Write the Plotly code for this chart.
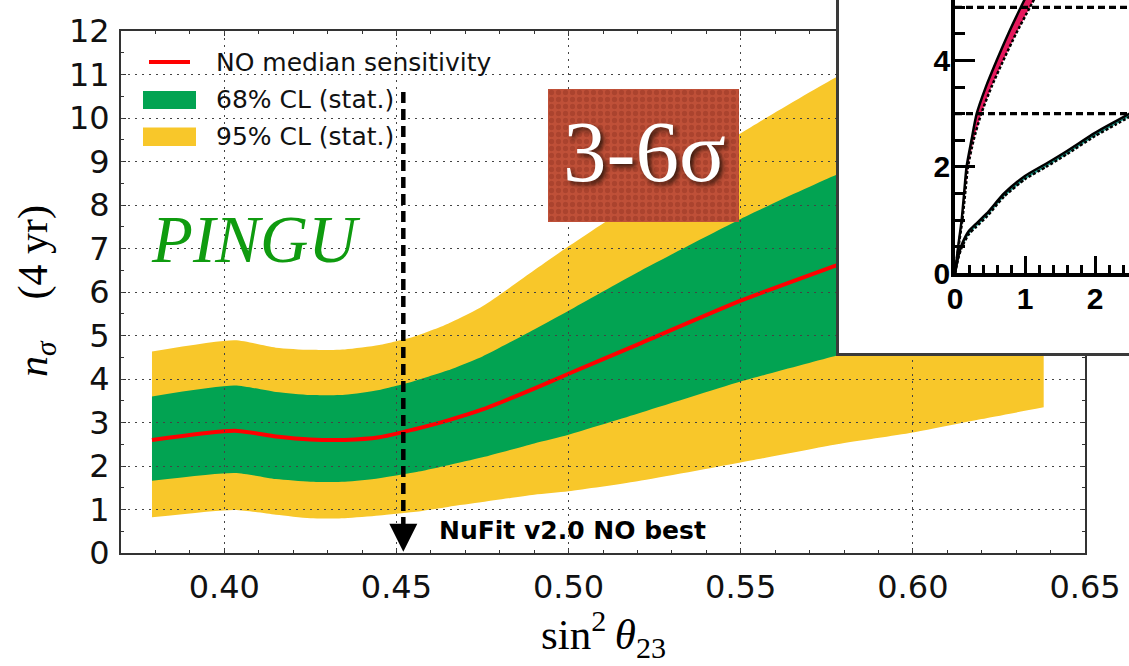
import plotly.graph_objects as go

W, H = 1129, 666

# ---------------- data (main panel) ----------------
sin2_theta23 = [0.379, 0.403, 0.415, 0.425, 0.435, 0.445, 0.455, 0.465, 0.475,
                0.490, 0.500, 0.520, 0.550, 0.578, 0.600, 0.620, 0.638]
median_nsigma = [2.60, 2.81, 2.68, 2.61, 2.60, 2.66, 2.84, 3.05, 3.30,
                 3.78, 4.12, 4.79, 5.80, 6.62, 7.25, 7.80, 8.30]
cl68_low = [1.66, 1.84, 1.70, 1.64, 1.64, 1.72, 1.85, 2.02, 2.20,
            2.52, 2.72, 3.20, 3.94, 4.54, 5.00, 5.40, 5.75]
cl68_high = [3.60, 3.85, 3.70, 3.63, 3.64, 3.75, 3.95, 4.20, 4.52,
             5.14, 5.57, 6.45, 7.68, 8.70, 9.35, 9.90, 10.40]
cl95_low = [0.82, 0.99, 0.88, 0.80, 0.80, 0.86, 0.94, 1.06, 1.17,
            1.34, 1.42, 1.65, 2.08, 2.50, 2.77, 3.08, 3.35]
cl95_high = [4.63, 4.89, 4.72, 4.67, 4.68, 4.78, 4.97, 5.27, 5.67,
             6.50, 7.05, 8.10, 9.65, 10.95, 11.80, 12.40, 12.90]
nufit_best = 0.452
nufit_arrow_top = 10.6

legend_labels = ["NO median sensitivity", "68% CL (stat.)", "95% CL (stat.)"]

# ---------------- data (inset) ----------------
inset_up_y = [0, 0.5, 1.0, 1.5, 2.0, 2.5, 3.0, 3.5, 4.0, 4.5, 5.0, 5.4]
inset_up_x_solid = [0, 0.045, 0.095, 0.13, 0.165, 0.235, 0.31, 0.44, 0.595, 0.76, 0.94, 1.09]
inset_up_x_dotted = [0, 0.05, 0.105, 0.145, 0.185, 0.265, 0.375, 0.52, 0.69, 0.87, 1.07, 1.23]
inset_lo_x = [0, 0.05, 0.1, 0.2, 0.3, 0.45, 0.7, 1.0, 1.3, 1.6, 2.0, 2.3, 2.6]
inset_lo_y_solid = [0, 0.33, 0.55, 0.80, 0.93, 1.12, 1.50, 1.83, 2.06, 2.30, 2.64, 2.86, 3.08]
inset_lo_y_dotted = [0, 0.30, 0.50, 0.74, 0.87, 1.06, 1.44, 1.77, 2.00, 2.24, 2.58, 2.80, 3.02]
inset_levels = [3, 5]

YELLOW = "#F8C72A"
GREEN = "#02A352"
RED = "#FF0000"


def px_x(p):
    return p / W


def px_y(p):
    return 1 - p / H


fig = go.Figure()
nohover = dict(hoverinfo="skip", showlegend=False)
SM = dict(shape="spline", smoothing=0.6)

# 95% band
fig.add_trace(go.Scatter(x=sin2_theta23, y=cl95_low, mode="lines", line=dict(width=0, **SM), **nohover))
fig.add_trace(go.Scatter(x=sin2_theta23, y=cl95_high, mode="lines", line=dict(width=0, **SM),
                         fill="tonexty", fillcolor=YELLOW, **nohover))
# 68% band
fig.add_trace(go.Scatter(x=sin2_theta23, y=cl68_low, mode="lines", line=dict(width=0, **SM), **nohover))
fig.add_trace(go.Scatter(x=sin2_theta23, y=cl68_high, mode="lines", line=dict(width=0, **SM),
                         fill="tonexty", fillcolor=GREEN, **nohover))
# median
fig.add_trace(go.Scatter(x=sin2_theta23, y=median_nsigma, mode="lines",
                         line=dict(color=RED, width=4, **SM), **nohover))

# overlay subplot (grid above bands) + NuFit arrow
fig.add_trace(go.Scatter(x=[nufit_best, nufit_best], y=[nufit_arrow_top, 0.6], mode="lines",
                         line=dict(color="black", width=4.5, dash="11px,6px"),
                         xaxis="x2", yaxis="y2", **nohover))
fig.add_trace(go.Scatter(x=[nufit_best], y=[0.03], mode="markers",
                         marker=dict(symbol="arrow-down", size=28, color="black", line=dict(width=0)),
                         xaxis="x2", yaxis="y2", cliponaxis=False, **nohover))

# 3-6 sigma box
fig.add_trace(go.Scatter(x=[0, 1, 1, 0, 0], y=[0, 0, 1, 1, 0], mode="lines", fill="toself",
                         fillcolor="#BE4E36", line=dict(width=0),
                         fillpattern=dict(shape=".", bgcolor="#BF5038", fgcolor="#983624",
                                          size=7, solidity=0.45),
                         xaxis="x3", yaxis="y3", **nohover))

# inset white box
fig.add_trace(go.Scatter(x=[0, 1, 1, 0, 0], y=[0, 0, 1, 1, 0], mode="lines", fill="toself",
                         fillcolor="white", line=dict(width=0),
                         xaxis="x4", yaxis="y4", **nohover))

# inset curves
up_poly_x = inset_up_x_solid + inset_up_x_dotted[::-1]
up_poly_y = inset_up_y + inset_up_y[::-1]
fig.add_trace(go.Scatter(x=up_poly_x, y=up_poly_y, mode="lines", fill="toself",
                         fillcolor="#E5185C", line=dict(width=0),
                         xaxis="x5", yaxis="y5", **nohover))
fig.add_trace(go.Scatter(x=inset_lo_x, y=inset_lo_y_dotted, mode="lines", line=dict(width=0),
                         xaxis="x5", yaxis="y5", **nohover))
fig.add_trace(go.Scatter(x=inset_lo_x, y=inset_lo_y_solid, mode="lines", line=dict(width=0),
                         fill="tonexty", fillcolor="#1E9C8C",
                         xaxis="x5", yaxis="y5", **nohover))
fig.add_trace(go.Scatter(x=inset_up_x_solid, y=inset_up_y, mode="lines",
                         line=dict(color="black", width=2.5, **SM), xaxis="x5", yaxis="y5", **nohover))
fig.add_trace(go.Scatter(x=inset_up_x_dotted, y=inset_up_y, mode="lines",
                         line=dict(color="black", width=2.5, dash="3px,2px", **SM),
                         xaxis="x5", yaxis="y5", **nohover))
fig.add_trace(go.Scatter(x=inset_lo_x, y=inset_lo_y_solid, mode="lines",
                         line=dict(color="black", width=2.5, **SM), xaxis="x5", yaxis="y5", **nohover))
fig.add_trace(go.Scatter(x=inset_lo_x, y=inset_lo_y_dotted, mode="lines",
                         line=dict(color="black", width=2.5, dash="3px,2px", **SM),
                         xaxis="x5", yaxis="y5", **nohover))

main_dom_x = [px_x(121), px_x(1085)]
main_dom_y = [px_y(553), px_y(31)]
XR = [0.37, 0.65]
YR = [0, 12]

tickfont = dict(family="DejaVu Sans", size=32, color="#111")
axcommon = dict(showline=True, linecolor="#333", linewidth=2, mirror="ticks",
                ticks="inside", ticklen=5, tickwidth=1, tickcolor="#333",
                showgrid=False, zeroline=False, tickfont=tickfont, automargin=False)

inset_x0_px, inset_y0_px = 955, 273.3
inset_px_per_x, inset_px_per_y = 70.0, 53.2
inset_xr = [0, (W - inset_x0_px) / inset_px_per_x]
inset_yr = [0, inset_y0_px / inset_px_per_y]
insetfont = dict(family="Liberation Sans", size=30, color="black", weight="bold")
noauto = dict(automargin=False)

fig.update_layout(
    width=W, height=H,
    margin=dict(l=0, r=0, t=0, b=0, pad=0),
    paper_bgcolor="white", plot_bgcolor="rgba(0,0,0,0)",
    showlegend=False, hovermode=False,
    font=dict(family="DejaVu Sans", color="black"),
    xaxis=dict(domain=main_dom_x, range=XR, anchor="y", tick0=0.40, dtick=0.05, tickformat=".2f",
               minor=dict(ticks="inside", ticklen=3, dtick=0.01, tickcolor="#333", showgrid=False),
               ticklabelstandoff=5, **axcommon),
    yaxis=dict(domain=main_dom_y, range=YR, anchor="x", dtick=1,
               minor=dict(ticks="inside", ticklen=3, dtick=0.5, tickcolor="#333", showgrid=False),
               ticklabelstandoff=3, **axcommon),
    xaxis2=dict(domain=main_dom_x, range=XR, anchor="y2", tick0=0.40, dtick=0.05,
                showgrid=True, gridcolor="#444", gridwidth=1.3, griddash="2px,5px",
                showticklabels=False, ticks="", showline=False, zeroline=False, **noauto),
    yaxis2=dict(domain=main_dom_y, range=YR, anchor="x2", dtick=1,
                showgrid=True, gridcolor="#444", gridwidth=1.3, griddash="2px,5px",
                showticklabels=False, ticks="", showline=False, zeroline=False, **noauto),
    xaxis3=dict(domain=[px_x(548), px_x(739)], range=[0, 1], anchor="y3", visible=False, **noauto),
    yaxis3=dict(domain=[px_y(222), px_y(89)], range=[0, 1], anchor="x3", visible=False, **noauto),
    xaxis4=dict(domain=[px_x(839), 1], range=[0, 1], anchor="y4", showline=True,
                linecolor="#3a3a3a", linewidth=2.5, ticks="", showticklabels=False,
                showgrid=False, zeroline=False, **noauto),
    yaxis4=dict(domain=[px_y(353), 1], range=[0, 1], anchor="x4", showline=True,
                linecolor="#3a3a3a", linewidth=2.5, ticks="", showticklabels=False,
                showgrid=False, zeroline=False, **noauto),
    xaxis5=dict(domain=[px_x(inset_x0_px), 1], range=inset_xr, anchor="y5",
                showline=True, linecolor="black", linewidth=3.5,
                ticks="inside", ticklen=18, tickwidth=3, tickcolor="black", dtick=1,
                minor=dict(ticks="inside", ticklen=9, tickwidth=3, dtick=0.2, tickcolor="black"),
                showgrid=False, zeroline=False, tickfont=insetfont, ticklabelstandoff=-4, **noauto),
    yaxis5=dict(domain=[px_y(inset_y0_px), 1], range=inset_yr, anchor="x5",
                showline=True, linecolor="black", linewidth=3.5,
                ticks="inside", ticklen=20, tickwidth=3, tickcolor="black", dtick=2,
                minor=dict(ticks="inside", ticklen=10, tickwidth=3, dtick=0.5, tickcolor="black"),
                showgrid=False, zeroline=False, tickfont=insetfont, ticklabelstandoff=-5, **noauto),
)

shapes = []
for lv in inset_levels:
    shapes.append(dict(type="line", xref="x5", yref="y5", x0=0, x1=inset_xr[1] + 0.2, y0=lv, y1=lv,
                       line=dict(color="black", width=3.2, dash="7px,4px"), layer="above"))
# legend handles
shapes.append(dict(type="line", xref="paper", yref="paper", x0=px_x(149), x1=px_x(190),
                   y0=px_y(62), y1=px_y(62), line=dict(color=RED, width=4), layer="above"))
shapes.append(dict(type="rect", xref="paper", yref="paper", x0=px_x(143), x1=px_x(196),
                   y0=px_y(109), y1=px_y(91), fillcolor=GREEN, line=dict(width=0), layer="above"))
shapes.append(dict(type="rect", xref="paper", yref="paper", x0=px_x(143), x1=px_x(196),
                   y0=px_y(146), y1=px_y(127.5), fillcolor=YELLOW, line=dict(width=0), layer="above"))
fig.update_layout(shapes=shapes)

annotations = []


def ann(text, px, py, size, family, color="black", xanchor="center", yanchor="middle", **kw):
    annotations.append(dict(text=text, x=px_x(px), y=px_y(py), xref="paper", yref="paper",
                            showarrow=False, xanchor=xanchor, yanchor=yanchor,
                            font=dict(size=size, family=family, color=color, **kw.pop("fontkw", {})),
                            **kw))


for lab, yy in zip(legend_labels, [62, 100, 137]):
    ann(lab, 214, yy, 25, "DejaVu Sans", color="#111", xanchor="left")

ann("<i>PINGU</i>", 256, 239, 67, "Liberation Serif", color="#0F9B0F")
ann("3-6σ", 644, 152, 87, "Liberation Serif", color="white",
    fontkw=dict(shadow="3px 3px 5px rgba(40,20,10,0.9)"))
ann("NuFit v2.0 NO best", 437, 530, 25, "DejaVu Sans", xanchor="left", fontkw=dict(weight="bold"))
ann("<i>n</i><sub><i>σ</i></sub>\u2003(4 yr)", 36, 291, 42, "Liberation Serif", textangle=-90)
ann("sin<sup>2</sup>\u2009<i>θ</i><sub>23</sub>", 603, 634, 43, "Liberation Serif")
fig.update_layout(annotations=annotations)

fig.write_html("out.html", config={"displayModeBar": False})
